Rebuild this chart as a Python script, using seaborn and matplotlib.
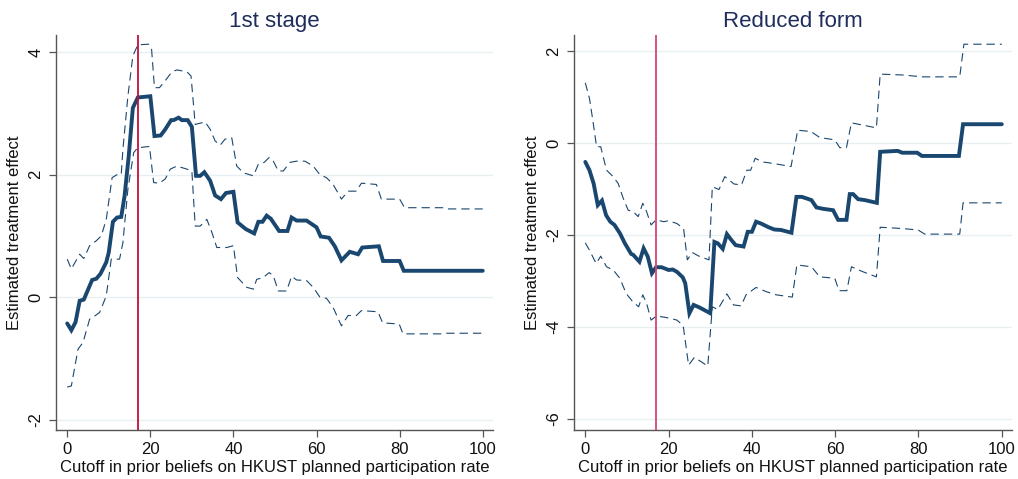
import matplotlib
matplotlib.use("Agg")
import matplotlib.pyplot as plt
import numpy as np
import pandas as pd
import seaborn as sns

# ---- 1st stage: point estimates and confidence bounds by cutoff ----
fs_est_x = [0, 1, 2, 3, 4, 6, 7, 8, 9.4, 10, 11, 12, 13, 13.8, 14.8, 15.8, 17, 20, 21, 22.5,
            23.6, 25, 25.6, 26.8, 27.6, 29, 30, 31, 32, 33, 34.4, 35.6, 37, 38.2, 40, 41, 43, 45,
            46, 47, 48, 49, 51, 53, 54, 55.2, 57.6, 60, 61, 63, 64.4, 66, 68, 70, 71, 75, 76, 80,
            81, 100]
fs_est_y = [-0.43, -0.54, -0.41, -0.06, -0.04, 0.28, 0.30, 0.38, 0.57, 0.73, 1.23, 1.30, 1.31,
            1.65, 2.30, 3.09, 3.26, 3.28, 2.63, 2.64, 2.74, 2.89, 2.89, 2.93, 2.89, 2.89, 2.78,
            1.98, 1.98, 2.04, 1.90, 1.66, 1.60, 1.70, 1.72, 1.22, 1.11, 1.04, 1.23, 1.23, 1.33,
            1.28, 1.08, 1.08, 1.30, 1.25, 1.25, 1.14, 0.99, 0.97, 0.83, 0.60, 0.74, 0.70, 0.81,
            0.83, 0.59, 0.59, 0.43, 0.43]

fs_hi_x = [0, 1, 3, 4, 5.4, 7, 8.2, 9.4, 10.8, 12, 13, 13.4, 14.6, 15.8, 17, 19.6, 20.3, 21,
           22.2, 24, 25.2, 26.4, 28.8, 29.8, 30.8, 32, 33.2, 34.4, 35.6, 36.8, 38, 39.6, 40.8,
           42.4, 44.8, 46, 47.4, 48.6, 49.6, 50.8, 52, 53.6, 55.2, 57.2, 59.2, 60.8, 62.4, 64,
           66, 67.6, 69.6, 70.8, 74.4, 75.6, 80, 81.2, 90.5, 91.3, 100]
fs_hi_y = [0.62, 0.46, 0.70, 0.63, 0.84, 0.92, 1.00, 1.27, 1.95, 2.00, 2.00, 2.41, 3.28, 3.94,
           4.12, 4.13, 4.05, 3.42, 3.42, 3.57, 3.68, 3.71, 3.68, 3.61, 2.82, 2.84, 2.86, 2.74,
           2.55, 2.48, 2.58, 2.60, 2.14, 2.03, 1.98, 2.17, 2.20, 2.28, 2.22, 2.06, 2.06, 2.20,
           2.22, 2.22, 2.14, 2.00, 1.95, 1.84, 1.60, 1.73, 1.73, 1.86, 1.84, 1.60, 1.60, 1.46,
           1.46, 1.44, 1.44]

fs_lo_x = [0, 1, 2.6, 3.8, 5.4, 6.8, 7.8, 9.4, 10.6, 12.6, 13.4, 14.6, 16, 17, 19.8, 20.8, 22.2,
           23.6, 24.8, 26.4, 28.8, 30, 30.8, 32, 33.6, 34.8, 36, 38.4, 40, 41, 43.2, 44.8, 45.6,
           47.2, 48.6, 49.6, 50.8, 52.8, 54, 55.2, 57.6, 59.2, 60.8, 62.4, 64, 66, 67.6, 69.6,
           70.8, 74.8, 75.9, 79.9, 80.8, 90, 91.3, 100]
fs_lo_y = [-1.47, -1.45, -0.85, -0.74, -0.36, -0.30, -0.25, 0.02, 0.62, 0.62, 0.89, 1.76, 2.36,
           2.44, 2.46, 1.87, 1.86, 1.93, 2.09, 2.14, 2.09, 2.06, 1.16, 1.16, 1.27, 1.06, 0.81,
           0.81, 0.84, 0.32, 0.16, 0.13, 0.29, 0.32, 0.40, 0.35, 0.10, 0.10, 0.34, 0.28, 0.27,
           0.16, 0.00, -0.02, -0.17, -0.47, -0.30, -0.30, -0.22, -0.24, -0.42, -0.44, -0.60,
           -0.60, -0.59, -0.59]

# ---- Reduced form: point estimates and confidence bounds by cutoff ----
rf_est_x = [0, 1, 2, 3, 4, 5, 6, 7, 8.3, 9.5, 11, 11.5, 13, 14, 15, 16, 17, 18.3, 20, 21, 22,
            23.4, 24, 25, 26, 27.3, 30, 31, 31.8, 33, 34, 35, 36.1, 38, 39, 40, 41, 42.2, 44,
            45.4, 47, 49.5, 50.7, 52, 54.3, 55.5, 57.1, 59.5, 60.7, 62.7, 63.5, 64.3, 65.5, 67.1,
            70, 70.8, 75, 76.1, 79.7, 80.8, 89.7, 90.7, 100]
rf_est_y = [-0.41, -0.59, -0.88, -1.35, -1.25, -1.57, -1.71, -1.78, -1.96, -2.18, -2.41, -2.43,
            -2.58, -2.29, -2.47, -2.83, -2.70, -2.70, -2.76, -2.75, -2.80, -2.92, -3.05, -3.70,
            -3.52, -3.57, -3.70, -2.15, -2.18, -2.30, -1.98, -2.10, -2.22, -2.25, -1.93, -1.93,
            -1.71, -1.75, -1.83, -1.88, -1.89, -1.95, -1.17, -1.17, -1.24, -1.40, -1.43, -1.46,
            -1.67, -1.67, -1.11, -1.11, -1.22, -1.24, -1.30, -0.19, -0.17, -0.21, -0.21, -0.28,
            -0.28, 0.41, 0.41]

rf_hi_x = [0, 1, 1.8, 2.7, 3.7, 5.1, 6.7, 7.9, 9.1, 10.3, 11.5, 12.7, 13.8, 14.7, 15.8, 17,
           18.8, 20, 22, 23.6, 24.5, 25.7, 27.3, 29.7, 30.5, 32.1, 33.5, 34.5, 35.7, 37.5, 38.8,
           39.7, 40.8, 42.5, 44.9, 49.4, 51, 54.2, 56.3, 59.9, 61.1, 62.7, 63.9, 66.7, 69.9,
           70.8, 76.3, 81, 89.9, 90.9, 100]
rf_hi_y = [1.31, 0.97, 0.50, -0.08, -0.08, -0.59, -0.73, -0.88, -1.20, -1.46, -1.49, -1.60,
           -1.31, -1.49, -1.78, -1.67, -1.71, -1.69, -1.75, -1.86, -2.54, -2.38, -2.46, -2.54,
           -0.95, -1.01, -0.73, -0.80, -0.89, -0.91, -0.59, -0.59, -0.33, -0.41, -0.44, -0.51,
           0.28, 0.25, 0.12, 0.07, -0.10, -0.10, 0.44, 0.39, 0.33, 1.50, 1.48, 1.44, 1.44, 2.15,
           2.15]

rf_lo_x = [0, 1, 2.6, 3.7, 5.1, 6.7, 8.3, 9.8, 11.4, 12.8, 13.8, 14.7, 15.8, 17.1, 19.2, 20.7,
           22, 23.5, 24.8, 26.2, 29.4, 30.5, 31.8, 34, 35.6, 37.4, 38.6, 41, 43.4, 45.8, 49.7,
           50.8, 54.3, 56.3, 59.9, 60.9, 62.8, 63.9, 66.7, 69.9, 70.8, 76.3, 79.9, 81.5, 89.9,
           90.7, 100]
rf_lo_y = [-2.17, -2.33, -2.62, -2.46, -2.69, -2.76, -2.94, -3.27, -3.45, -3.56, -3.30, -3.48,
           -3.85, -3.76, -3.79, -3.82, -3.85, -3.97, -4.83, -4.66, -4.85, -3.56, -3.62, -3.28,
           -3.52, -3.54, -3.30, -3.14, -3.23, -3.30, -3.35, -2.65, -2.69, -2.91, -2.94, -3.21,
           -3.21, -2.69, -2.80, -2.91, -1.83, -1.86, -1.89, -1.98, -1.98, -1.30, -1.30]

# ---- Shared axis settings ----
cutoff_line = 17
x_ticks = [0, 20, 40, 60, 80, 100]
fs_y_ticks = [-2, 0, 2, 4]
rf_y_ticks = [-6, -4, -2, 0, 2]
x_label = "Cutoff in prior beliefs on HKUST planned participation rate"
y_label = "Estimated treatment effect"

NAVY = "#1a476f"
TITLE_C = "#1e2d5c"
GRID_C = "#e8eff1"
SPINE_C = "#555555"

sns.set_style("white")
plt.rcParams["font.family"] = ["Liberation Sans", "DejaVu Sans"]

fig = plt.figure(figsize=(10.18, 4.79), dpi=100)
ax1 = fig.add_axes([0.055, 0.1023, 0.429, 0.8246])
ax2 = fig.add_axes([0.5639, 0.1023, 0.430, 0.8246])


def draw_panel(ax, est, hi, lo, title, yticks, ylim, vcolor):
    for (xs, ys), style in ((hi, "dash"), (lo, "dash"), (est, "solid")):
        df = pd.DataFrame({"cutoff": xs, "effect": ys})
        if style == "dash":
            sns.lineplot(data=df, x="cutoff", y="effect", ax=ax, sort=False,
                         estimator=None, color=NAVY, lw=0.8, dashes=False,
                         linestyle=(0, (7.5, 4.5)), zorder=3)
        else:
            sns.lineplot(data=df, x="cutoff", y="effect", ax=ax, sort=False,
                         estimator=None, color=NAVY, lw=2.8, zorder=4,
                         solid_joinstyle="miter")
    ax.axvline(cutoff_line, color=vcolor, lw=1.3, zorder=5)
    ax.set_xlim(-2.7, 102.4)
    ax.set_ylim(*ylim)
    ax.set_xticks(x_ticks)
    ax.set_yticks(yticks)
    ax.set_yticklabels([str(t) for t in yticks], rotation=90, va="center")
    ax.yaxis.grid(True, color=GRID_C, lw=1.0, zorder=0)
    ax.xaxis.grid(False)
    ax.set_axisbelow(True)
    for side in ("top", "right"):
        ax.spines[side].set_visible(False)
    for side in ("left", "bottom"):
        ax.spines[side].set_color(SPINE_C)
        ax.spines[side].set_linewidth(1.0)
    ax.tick_params(axis="both", direction="out", length=5, width=0.9, color=SPINE_C,
                   labelsize=12, labelcolor="#111111", pad=4, bottom=True, left=True)
    ax.set_xlabel(x_label, fontsize=12, color="#111111", labelpad=2)
    ax.set_ylabel(y_label, fontsize=12, color="#111111", labelpad=5)
    ax.set_title(title, fontsize=16, color=TITLE_C, pad=6)


draw_panel(ax1, (fs_est_x, fs_est_y), (fs_hi_x, fs_hi_y), (fs_lo_x, fs_lo_y),
           "1st stage", fs_y_ticks, (-2.17, 4.28), "#c0103a")
draw_panel(ax2, (rf_est_x, rf_est_y), (rf_hi_x, rf_hi_y), (rf_lo_x, rf_lo_y),
           "Reduced form", rf_y_ticks, (-6.24, 2.35), "#d6476b")

fig.savefig("out.png", dpi=100, facecolor="white")
